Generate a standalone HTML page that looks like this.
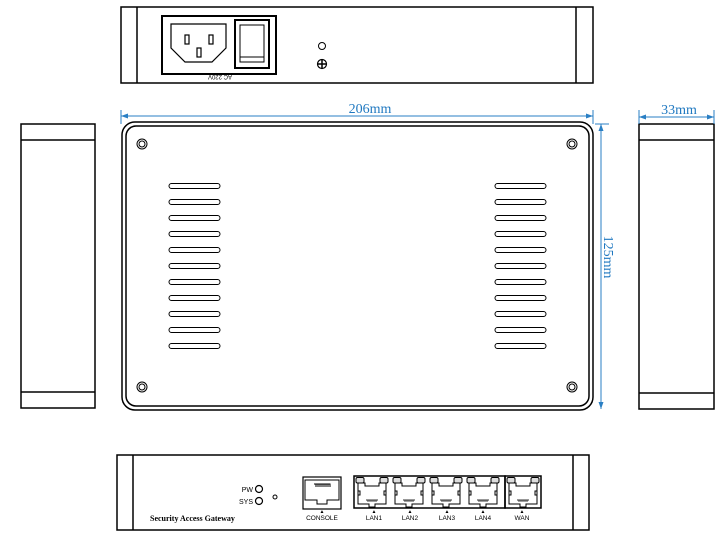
<!DOCTYPE html>
<html><head><meta charset="utf-8"><style>html,body{margin:0;padding:0;background:#fff}svg{display:block}</style></head><body>
<svg width="725" height="543" viewBox="0 0 725 543" xmlns="http://www.w3.org/2000/svg">
<defs>
<g id="port" fill="none" stroke="#000" stroke-width="1">
<rect x="1" y="1.5" width="8" height="5.5" rx="1.5" fill="#ddd"/>
<rect x="25" y="1.5" width="8" height="5.5" rx="1.5" fill="#ddd"/>
<path d="M3 7 V28 H14 V31 H20 V28 H31 V7 H24 V10 H10 V7 Z"/>
<rect x="3" y="15" width="2" height="4"/><rect x="29" y="15" width="2" height="4"/>
<path d="M12 25 H22 M12 23 V25 M14 23 V25 M16 23 V25 M18 23 V25 M20 23 V25 M22 23 V25" stroke-width="0.8"/>
</g>
</defs>
<g fill="none" stroke="#000" stroke-width="1.5">
<!-- top view -->
<rect x="121" y="7" width="472" height="76"/>
<line x1="137" y1="7" x2="137" y2="83"/><line x1="576" y1="7" x2="576" y2="83"/>
<rect x="162" y="16" width="114" height="58" stroke-width="2"/>
<path d="M171 24 H226 V48 L212 62 H185 L171 48 Z" stroke-width="1.2"/>
<rect x="235" y="20" width="34" height="48" stroke-width="2"/>
<rect x="240" y="25" width="24" height="37" stroke-width="1"/>
<line x1="240" y1="57" x2="264" y2="57" stroke-width="1"/>
<circle cx="322" cy="46" r="3.5" stroke-width="1"/>
<circle cx="322" cy="64" r="4.5" stroke-width="1.2"/>
<!-- main panel -->
<rect x="122" y="122" width="471" height="288" rx="13" stroke-width="1.5"/>
<rect x="126" y="126" width="463" height="280" rx="10" stroke-width="1.5"/>
<g stroke-width="1">
<circle cx="142" cy="144" r="5"/><circle cx="142" cy="144" r="3"/>
<circle cx="572" cy="144" r="5"/><circle cx="572" cy="144" r="3"/>
<circle cx="142" cy="387" r="5"/><circle cx="142" cy="387" r="3"/>
<circle cx="572" cy="387" r="5"/><circle cx="572" cy="387" r="3"/>
</g>
<!-- side views -->
<rect x="21" y="124" width="74" height="284"/>
<line x1="21" y1="140" x2="95" y2="140"/><line x1="21" y1="392" x2="95" y2="392"/>
<rect x="639" y="124" width="75" height="285"/>
<line x1="639" y1="140" x2="714" y2="140"/><line x1="639" y1="393" x2="714" y2="393"/>
<!-- front view -->
<rect x="117" y="455" width="472" height="75"/>
<line x1="133" y1="455" x2="133" y2="530"/><line x1="573" y1="455" x2="573" y2="530"/>
<circle cx="259" cy="489" r="3.5" stroke-width="1.2"/>
<circle cx="259" cy="501" r="3.5" stroke-width="1.2"/>
<circle cx="275" cy="497" r="2" stroke-width="1"/>
<rect x="303" y="477" width="38" height="32" stroke-width="1.2"/>
<rect x="354" y="476" width="151" height="32" stroke-width="1.5"/>
<rect x="505" y="476" width="36" height="32" stroke-width="1.5"/>
</g>
<g fill="none" stroke="#000" stroke-width="1">
<path d="M305 480 V500 H317 V504 H327 V500 H339 V480 Z"/>
<path d="M314 484 H330 V487 M316 484 V487 M318 484 V487 M320 484 V487 M322 484 V487 M324 484 V487 M326 484 V487 M328 484 V487"/>
</g>
<use href="#port" x="355" y="476"/><use href="#port" x="392" y="476"/><use href="#port" x="429" y="476"/><use href="#port" x="466" y="476"/><use href="#port" x="506" y="476"/>
<!-- slots -->
<g fill="none" stroke="#000" stroke-width="1">
<rect x="169" y="183.5" width="51" height="5" rx="2.5"/><rect x="169" y="199.5" width="51" height="5" rx="2.5"/><rect x="169" y="215.5" width="51" height="5" rx="2.5"/><rect x="169" y="231.5" width="51" height="5" rx="2.5"/><rect x="169" y="247.5" width="51" height="5" rx="2.5"/><rect x="169" y="263.5" width="51" height="5" rx="2.5"/><rect x="169" y="279.5" width="51" height="5" rx="2.5"/><rect x="169" y="295.5" width="51" height="5" rx="2.5"/><rect x="169" y="311.5" width="51" height="5" rx="2.5"/><rect x="169" y="327.5" width="51" height="5" rx="2.5"/><rect x="169" y="343.5" width="51" height="5" rx="2.5"/>
<rect x="495" y="183.5" width="51" height="5" rx="2.5"/><rect x="495" y="199.5" width="51" height="5" rx="2.5"/><rect x="495" y="215.5" width="51" height="5" rx="2.5"/><rect x="495" y="231.5" width="51" height="5" rx="2.5"/><rect x="495" y="247.5" width="51" height="5" rx="2.5"/><rect x="495" y="263.5" width="51" height="5" rx="2.5"/><rect x="495" y="279.5" width="51" height="5" rx="2.5"/><rect x="495" y="295.5" width="51" height="5" rx="2.5"/><rect x="495" y="311.5" width="51" height="5" rx="2.5"/><rect x="495" y="327.5" width="51" height="5" rx="2.5"/><rect x="495" y="343.5" width="51" height="5" rx="2.5"/>
</g>
<!-- pins -->
<g fill="none" stroke="#000" stroke-width="1.2">
<rect x="185" y="35" width="4" height="9"/><rect x="209" y="35" width="4" height="9"/><rect x="197" y="48" width="4" height="9"/>
</g>
<path d="M318 64 H326 M322 60 V68" stroke="#000" stroke-width="1.5"/>
<!-- dimensions -->
<g stroke="#2a7fc4" stroke-width="1" fill="#2a7fc4">
<line x1="121" y1="110" x2="121" y2="124"/><line x1="593" y1="110" x2="593" y2="124"/>
<line x1="121" y1="116" x2="593" y2="116"/>
<path d="M121 116 l7 -2.5 v5 Z M593 116 l-7 -2.5 v5 Z" stroke="none"/>
<line x1="595" y1="124" x2="609" y2="124"/>
<line x1="601" y1="124" x2="601" y2="409"/>
<path d="M601 124 l-2.5 7 h5 Z M601 409 l-2.5 -7 h5 Z" stroke="none"/>
<line x1="639" y1="110" x2="639" y2="124"/><line x1="714" y1="110" x2="714" y2="124"/>
<line x1="639" y1="117" x2="714" y2="117"/>
<path d="M639 117 l7 -2.5 v5 Z M714 117 l-7 -2.5 v5 Z" stroke="none"/>
</g>
<g font-family="Liberation Serif, serif" font-size="14" fill="#1f78c0" text-anchor="middle">
<text x="370" y="113">206mm</text>
<text x="679" y="114">33mm</text>
<text x="0" y="0" transform="translate(604,257) rotate(90)">125mm</text>
</g>
<g font-family="Liberation Sans, sans-serif" fill="#000">
<text x="0" y="0" font-size="6" text-anchor="middle" transform="translate(220,75) rotate(180)">AC 220V</text>
<text x="253" y="492" font-size="7" text-anchor="end">PW</text>
<text x="253" y="504" font-size="7" text-anchor="end">SYS</text>
<text x="322" y="520" font-size="6.5" text-anchor="middle">CONSOLE</text>
<text x="374" y="520" font-size="6.5" text-anchor="middle">LAN1</text>
<text x="410" y="520" font-size="6.5" text-anchor="middle">LAN2</text>
<text x="447" y="520" font-size="6.5" text-anchor="middle">LAN3</text>
<text x="483" y="520" font-size="6.5" text-anchor="middle">LAN4</text>
<text x="522" y="520" font-size="6.5" text-anchor="middle">WAN</text>
<g font-size="5" text-anchor="middle"><text x="322" y="513">▲</text><text x="374" y="513">▲</text><text x="410" y="513">▲</text><text x="447" y="513">▲</text><text x="483" y="513">▲</text><text x="522" y="513">▲</text></g>
<text x="150" y="521" font-size="8" font-weight="bold" font-family="Liberation Serif, serif">Security Access Gateway</text>
</g>
</svg>
</body></html>
